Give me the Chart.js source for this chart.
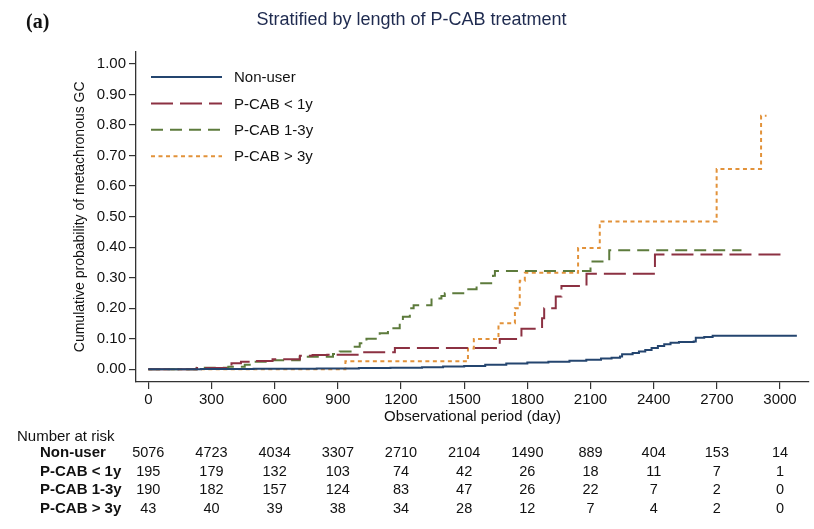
<!DOCTYPE html>
<html>
<head>
<meta charset="utf-8">
<script src="https://cdn.jsdelivr.net/npm/chart.js@4.4.1/dist/chart.umd.min.js"></script>
<style>
  html, body { margin: 0; padding: 0; background: #fff; }
  #wrap { width: 814px; height: 529px; }
</style>
</head>
<body>
<div id="wrap"><canvas id="c" width="814" height="529"></canvas></div>
<script>
// ---------------- data ----------------
const chartTitle = 'Stratified by length of P-CAB treatment';
const panelLabel = '(a)';
const xTitle = 'Observational period (day)';
const yTitle = 'Cumulative probability of metachronous GC';
const xTicks = [0, 300, 600, 900, 1200, 1500, 1800, 2100, 2400, 2700, 3000];
const yTicks = [0, 0.1, 0.2, 0.3, 0.4, 0.5, 0.6, 0.7, 0.8, 0.9, 1.0];
const seriesLabels = ['Non-user', 'P-CAB < 1y', 'P-CAB 1-3y', 'P-CAB > 3y'];

const nonUserDays = [0, 250, 500, 800, 1000, 1150, 1300, 1400, 1500, 1600, 1700, 1800, 1900, 2000, 2080, 2150, 2200, 2240, 2250, 2300, 2330, 2360, 2390, 2420, 2450, 2480, 2520, 2590, 2600, 2640, 2680, 3080];
const nonUserProb = [0, 0.001, 0.002, 0.003, 0.004, 0.005, 0.007, 0.009, 0.011, 0.015, 0.019, 0.022, 0.025, 0.028, 0.031, 0.035, 0.038, 0.042, 0.049, 0.053, 0.058, 0.063, 0.070, 0.076, 0.082, 0.087, 0.089, 0.091, 0.103, 0.106, 0.110, 0.110];

const lt1Days = [0, 230, 379, 395, 440, 490, 590, 720, 780, 850, 1004, 1171, 1669, 1772, 1870, 1880, 1935, 1962, 2081, 2406, 3031];
const lt1Prob = [0, 0.004, 0.012, 0.020, 0.025, 0.027, 0.033, 0.044, 0.047, 0.048, 0.056, 0.070, 0.099, 0.133, 0.167, 0.200, 0.238, 0.273, 0.3125, 0.376, 0.376];

const mid13Days = [0, 230, 380, 458, 490, 592, 719, 877, 909, 972, 1004, 1036, 1099, 1138, 1194, 1209, 1242, 1260, 1345, 1392, 1408, 1511, 1559, 1637, 1646, 2100, 2189, 2817];
const mid13Prob = [0, 0.005, 0.008, 0.015, 0.025, 0.030, 0.041, 0.050, 0.058, 0.074, 0.085, 0.100, 0.118, 0.134, 0.160, 0.172, 0.200, 0.210, 0.232, 0.240, 0.249, 0.262, 0.282, 0.306, 0.322, 0.353, 0.390, 0.390];

const gt3Days = [0, 936, 1518, 1546, 1663, 1741, 1764, 1788, 2041, 2144, 2699, 2910, 2936];
const gt3Prob = [0, 0.026, 0.068, 0.099, 0.151, 0.200, 0.290, 0.316, 0.397, 0.484, 0.656, 0.830, 0.830];

const riskTitle = 'Number at risk';
const riskNonUser = [5076, 4723, 4034, 3307, 2710, 2104, 1490, 889, 404, 153, 14];
const riskLt1 = [195, 179, 132, 103, 74, 42, 26, 18, 11, 7, 1];
const risk13 = [190, 182, 157, 124, 83, 47, 26, 22, 7, 2, 0];
const riskGt3 = [43, 40, 39, 38, 34, 28, 12, 7, 4, 2, 0];

// ---------------- styles ----------------
const FONT = '"Liberation Sans", Arial, Helvetica, sans-serif';
const colors = ['#24456f', '#8c3142', '#5d7b3c', '#e2923a'];
const dashes = [[], [22, 7], [12, 7], [4, 3.5]];

function pts(xs, ys) { return xs.map((x, i) => ({ x: x, y: ys[i] })); }
const seriesData = [pts(nonUserDays, nonUserProb), pts(lt1Days, lt1Prob), pts(mid13Days, mid13Prob), pts(gt3Days, gt3Prob)];
const riskRows = [riskNonUser, riskLt1, risk13, riskGt3];

Chart.defaults.font.family = FONT;
Chart.defaults.color = '#111';

const legendPlugin = {
  id: 'insideLegend',
  afterDraw(chart) {
    const ctx = chart.ctx;
    ctx.save();
    chart.data.datasets.forEach((ds, i) => {
      const y = 77 + i * 26.4;
      ctx.beginPath();
      ctx.strokeStyle = ds.borderColor;
      ctx.lineWidth = ds.borderWidth;
      ctx.setLineDash(ds.borderDash || []);
      ctx.moveTo(151, y);
      ctx.lineTo(222, y);
      ctx.stroke();
      ctx.setLineDash([]);
      ctx.fillStyle = '#111';
      ctx.font = '15px ' + FONT;
      ctx.textAlign = 'left';
      ctx.textBaseline = 'middle';
      ctx.fillText(ds.label, 234, y + 1);
    });
    ctx.restore();
  }
};

const riskPlugin = {
  id: 'riskTable',
  afterDraw(chart) {
    const ctx = chart.ctx;
    const xs = chart.scales.x;
    ctx.save();
    ctx.fillStyle = '#111';
    ctx.textBaseline = 'middle';
    ctx.font = '15px ' + FONT;
    ctx.textAlign = 'left';
    ctx.fillText(riskTitle, 17, 437);
    riskRows.forEach((row, r) => {
      const y = 453 + r * 18.5;
      ctx.font = 'bold 15px ' + FONT;
      ctx.textAlign = 'left';
      ctx.fillText(seriesLabels[r], 40, y);
      ctx.font = '14.5px ' + FONT;
      ctx.textAlign = 'center';
      row.forEach((v, j) => {
        ctx.fillText(String(v), xs.getPixelForValue(xTicks[j]), y);
      });
    });
    // panel label
    ctx.font = 'bold 20px "Liberation Serif", "Times New Roman", serif';
    ctx.textAlign = 'left';
    ctx.textBaseline = 'alphabetic';
    ctx.fillText(panelLabel, 26, 28);
    ctx.restore();
  }
};

new Chart(document.getElementById('c'), {
  type: 'line',
  data: {
    datasets: seriesData.map((d, i) => ({
      label: seriesLabels[i],
      data: d,
      borderColor: colors[i],
      backgroundColor: colors[i],
      borderWidth: 2,
      borderDash: dashes[i],
      stepped: true,
      pointRadius: 0,
      fill: false,
      tension: 0
    }))
  },
  options: {
    responsive: false,
    animation: false,
    devicePixelRatio: 1,
    layout: { padding: { left: 14, right: 5, top: 0, bottom: 102 } },
    plugins: {
      legend: { display: false },
      tooltip: { enabled: false },
      title: {
        display: true,
        text: chartTitle,
        color: '#1e2a4f',
        font: { size: 18, weight: 'normal' },
        padding: { top: 9, bottom: 21 }
      }
    },
    scales: {
      x: {
        type: 'linear',
        min: -58.4,
        max: 3137.6,
        afterBuildTicks(scale) { scale.ticks = xTicks.map(v => ({ value: v })); },
        afterFit(scale) { scale.height = 45; },
        ticks: { font: { size: 15 }, color: '#111', padding: 2, maxRotation: 0, autoSkip: false, callback: v => String(v) },
        grid: { drawOnChartArea: false, drawTicks: true, tickLength: 7, color: '#333', lineWidth: 1.2 },
        border: { display: true, color: '#333', width: 1.3 },
        title: { display: true, text: xTitle, font: { size: 15 }, color: '#111', padding: { top: 0, bottom: 1 } }
      },
      y: {
        type: 'linear',
        min: -0.0416,
        max: 1.0403,
        afterBuildTicks(scale) { scale.ticks = yTicks.map(v => ({ value: v })); },
        afterFit(scale) { scale.width = 122; },
        ticks: { font: { size: 15 }, color: '#111', padding: 3, autoSkip: false, callback: v => Number(v).toFixed(2) },
        grid: { drawOnChartArea: false, drawTicks: true, tickLength: 7, color: '#333', lineWidth: 1.2 },
        border: { display: true, color: '#333', width: 1.3 },
        title: { display: true, text: yTitle, font: { size: 14 }, color: '#111', padding: { top: 58, bottom: 0 } }
      }
    }
  },
  plugins: [legendPlugin, riskPlugin]
});
</script>
</body>
</html>
